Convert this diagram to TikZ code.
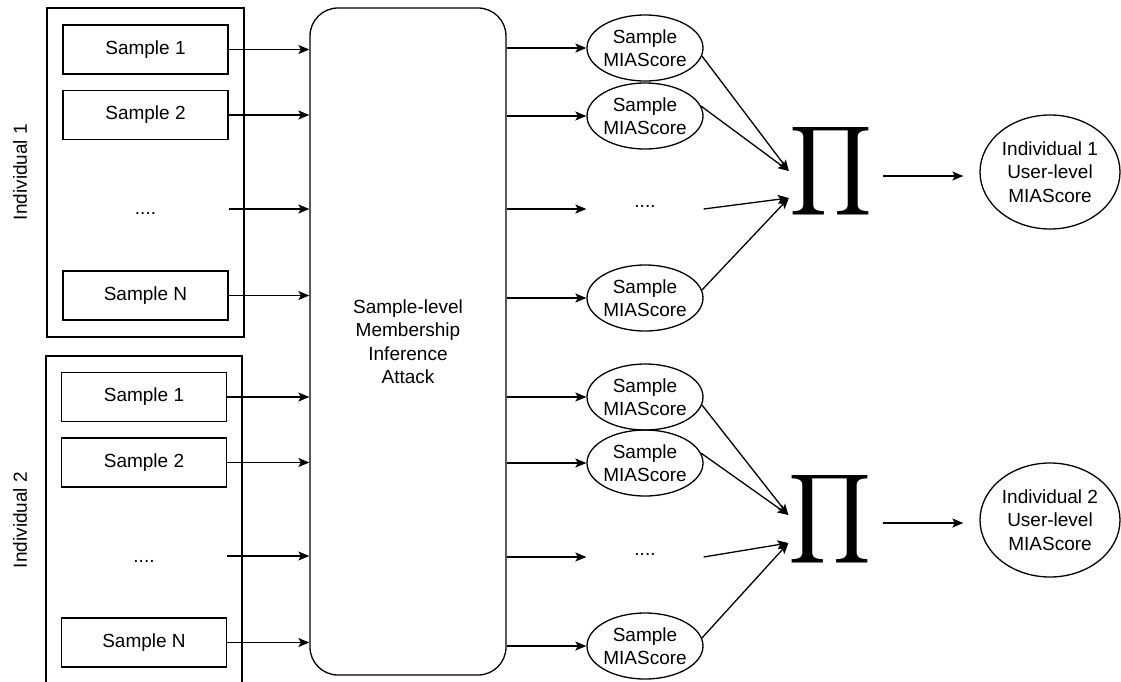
\documentclass[tikz,border=0pt]{standalone}
\usepackage{fontspec}
\setmainfont{Liberation Sans}
\usetikzlibrary{arrows.meta,shapes.geometric,calc}
\begin{document}
\begin{tikzpicture}[x=1pt,y=-1pt,line width=1.3pt,
  every node/.style={font=\fontsize{19}{23.5}\selectfont,inner sep=0pt},
  groupbox/.style={draw,rectangle,minimum width=197pt},
  sbox/.style={draw,rectangle,minimum width=165pt,minimum height=49pt},
  ell/.style={draw,ellipse,minimum width=116pt,minimum height=66pt,inner sep=-3pt,align=center},
  ghost/.style={ellipse,minimum width=116pt,minimum height=66pt},
  ghostbox/.style={rectangle,minimum width=165pt,minimum height=49pt},
  uell/.style={draw,ellipse,minimum width=140pt,minimum height=114pt,inner sep=-3pt,align=center},
  arr/.style={-{Stealth[length=11pt,width=9pt,inset=2.5pt]}},
  prodsym/.style={inner sep=0pt}
]
\path[use as bounding box] (0,0) rectangle (1121,681);
\clip (0,0) rectangle (1121,681);

% groups
\node[groupbox,minimum height=329pt] (g1) at (145.5,172.5) {};
\node[groupbox,minimum width=196pt,minimum height=344pt] (g2) at (144,528) {};
\node[rotate=90] (l1) at (20,172) {Individual 1};
\node[rotate=90] (l2) at (20,520) {Individual 2};

% samples individual 1
\node[sbox] (s11) at (145.5,49.5) {Sample 1};
\node[sbox] (s12) at (145.5,115) {Sample 2};
\node[ghostbox] (s1d) at (145.5,209) {\raisebox{-11pt}{....}};
\node[sbox] (s1N) at (145.5,295.5) {Sample N};

% samples individual 2
\node[sbox] (s21) at (144,397) {Sample 1};
\node[sbox] (s22) at (144,462.5) {Sample 2};
\node[ghostbox] (s2d) at (144,556) {\raisebox{-12pt}{....}};
\node[sbox] (s2N) at (144,642.5) {Sample N};

% attack box
\node[draw,rectangle,rounded corners=28pt,minimum width=196pt,minimum height=667pt,align=center] (mia) at (408,341.5)
  {Sample-level\\Membership\\Inference\\Attack};

% sample scores
\node[ell] (e11) at (645,48) {Sample\\MIAScore};
\node[ell] (e12) at (645,116) {Sample\\MIAScore};
\node[ghost] (e1d) at (645,209) {\raisebox{6pt}{....}};
\node[ell] (e1N) at (645,298) {Sample\\MIAScore};

\node[ell] (e21) at (645,397) {Sample\\MIAScore};
\node[ell] (e22) at (645,463) {Sample\\MIAScore};
\node[ghost] (e2d) at (645,557) {\raisebox{6pt}{....}};
\node[ell] (e2N) at (645,646) {Sample\\MIAScore};

% products
\node[prodsym] (pi1) at (831,171) {\resizebox*{83pt}{100pt}{$\displaystyle\prod$}};
\node[prodsym] (pi2) at (830.5,519) {\resizebox*{83pt}{100pt}{$\displaystyle\prod$}};
\coordinate (p1a) at (pi1.west);
\coordinate (p1b) at ($(pi1.west)+(0,27)$);
\coordinate (p2a) at ($(pi2.west)+(0,-4)$);
\coordinate (p2b) at ($(pi2.west)+(0,24)$);

% user-level scores
\node[uell] (u1) at (1050,172) {Individual 1\\User-level\\MIAScore};
\node[uell] (u2) at (1050,520) {Individual 2\\User-level\\MIAScore};

% arrows samples -> attack
\foreach \s in {s11,s12,s1d,s1N,s21,s22,s2d,s2N}
  \draw[arr] (\s.east) -- (\s.east -| mia.west);

% arrows attack -> sample scores
\foreach \e in {e11,e12,e1d,e1N,e21,e22,e2d,e2N}
  \draw[arr] (mia.east |- \e.west) -- (\e.west);

% sample scores -> product
\draw[arr] (e11.-8) -- (p1a);
\draw[arr] (e12.10) -- (p1a);
\draw[arr] (e1d.east) -- (p1b);
\draw[arr] (e1N.8) -- (p1b);

\draw[arr] (e21.-8) -- (p2a);
\draw[arr] (e22.10) -- (p2a);
\draw[arr] (e2d.east) -- (p2b);
\draw[arr] (e2N.8) -- (p2b);

% product -> user-level
\draw[arr,shorten <=10pt,shorten >=16pt] ([yshift=-5pt]pi1.east) -- ([yshift=-5pt]pi1.east -| u1.west);
\draw[arr,shorten <=10pt,shorten >=16pt] ([yshift=-4pt]pi2.east) -- ([yshift=-4pt]pi2.east -| u2.west);
\end{tikzpicture}
\end{document}
